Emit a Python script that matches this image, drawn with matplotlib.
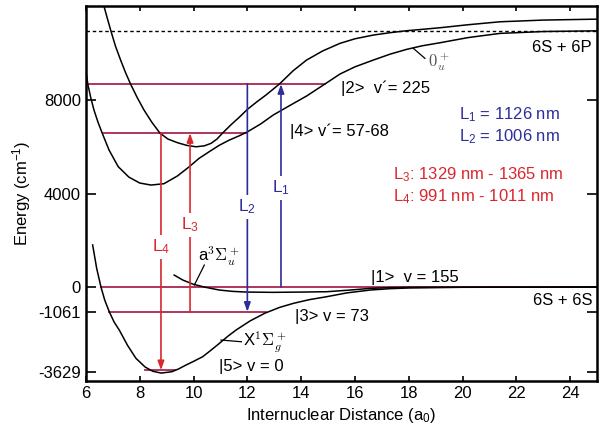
import numpy as np
import matplotlib
matplotlib.use("Agg")
import matplotlib.pyplot as plt

plt.rcParams.update({
    "font.family": ["Liberation Sans", "DejaVu Sans"],
    "font.size": 12,
    "mathtext.fontset": "custom",
    "mathtext.rm": "Liberation Sans",
    "mathtext.it": "Liberation Sans:italic",
    "mathtext.bf": "Liberation Sans:bold",
})

# --- data ----------------------------------------------------------------- #
# ground state X1Sigma_g+  (R in a0, E in cm^-1)
x_R = [6.25, 6.4, 6.56, 6.7, 6.87, 7.05, 7.24, 7.55, 7.86, 8.2, 8.48, 8.8, 9.2, 9.45,
       9.72, 10.0, 10.34, 10.65, 10.96, 11.27, 11.58, 12.1, 12.65, 13.2, 13.71, 14.3,
       14.95, 15.7, 16.56, 17.3, 18.0, 20.0, 25.0]
x_E = [1800, 800, 0, -560, -1061, -1500, -1840, -2500, -3050, -3420, -3600, -3680,
       -3620, -3500, -3336, -3180, -2980, -2700, -2410, -2110, -1840, -1450, -1120,
       -870, -698, -540, -413, -250, -128, -70, -40, -10, 0]

# triplet a3Sigma_u+
a_R = [9.28, 9.6, 9.97, 10.4, 10.96, 11.45, 11.95, 12.94, 14.0, 14.95, 15.8, 16.56,
       17.3, 18.0, 25.0]
a_E = [513, 300, 128, 0, -128, -185, -214, -227, -215, -200, -130, -57, -25, -10, 0]

# upper excited curve
u_R = [6.65, 6.8, 6.93, 7.1, 7.29, 7.47, 7.66, 7.9, 8.16, 8.45, 8.75, 9.05, 9.41,
       9.75, 10.09, 10.4, 10.65, 10.87, 11.08, 11.4, 11.72, 12.0, 12.35, 12.69, 13.19,
       13.7, 14.2, 14.8, 15.44, 16.0, 16.68, 17.3, 17.92, 19.16, 20.2, 21.39, 23.0, 25.0]
u_E = [12100, 11480, 10950, 10300, 9709, 9180, 8683, 8120, 7570, 7050, 6587, 6330,
       6172, 6060, 6000, 6040, 6146, 6330, 6587, 6950, 7285, 7600, 7920, 8212, 8683,
       9250, 9709, 10100, 10423, 10620, 10778, 10880, 10964, 11092, 11220, 11347,
       11420, 11460]

# lower excited curve (0u+)
w_R = [6.0, 6.07, 6.18, 6.3, 6.45, 6.6, 6.86, 7.2, 7.6, 8.0, 8.42, 8.9, 9.4, 9.84,
       10.2, 10.58, 10.95, 11.33, 11.7, 12.01, 12.5, 12.96, 13.6, 14.2, 14.88, 15.44,
       16.0, 16.68, 17.3, 17.92, 18.5, 19.16, 20.2, 21.39, 23.0, 25.0]
w_E = [9250, 8683, 8100, 7570, 7050, 6600, 5860, 5150, 4700, 4450, 4363, 4420, 4750,
       5146, 5500, 5788, 6060, 6287, 6470, 6643, 6980, 7357, 7780, 8170, 8683, 9110,
       9420, 9709, 9960, 10167, 10320, 10450, 10670, 10850, 10930, 10960]

asym_6P = 10950

# vibrational levels: energy, R start, R end
lvl_E = [8683, 6587, 0, -1061, -3560]
lvl_R0 = [6.0, 6.62, 6.56, 6.87, 8.2]
lvl_R1 = [14.88, 12.0, 25.0, 12.7, 9.3]

# transitions: R, E start, E end, label, label E
tr_R = [8.79, 9.87, 12.0, 13.25]
tr_E0 = [6587, -1061, 8683, 0]
tr_E1 = [-3560, 6587, -1061, 8683]
tr_lab = ["L$_4$", "L$_3$", "L$_2$", "L$_1$"]
tr_labE = [1711, 2650, 3420, 4235]

yticks = [8000, 4000, 0, -1061, -3629]
ytick_labels = ["8000", "4000", "0", "-1061", "-3629"]
xticks = [6, 8, 10, 12, 14, 16, 18, 20, 22, 24]

RED, BLUE, CRIMSON = "#d8282e", "#2d2d99", "#a82550"
tr_col = [RED, RED, BLUE, BLUE]

fig = plt.figure(figsize=(6.05, 4.32), dpi=100)
ax = fig.add_axes([0.142, 0.118, 0.845, 0.868])

ax.axhline(asym_6P, color="black", lw=1.0, ls=(0, (2.5, 2)))

for E, r0, r1 in zip(lvl_E, lvl_R0, lvl_R1):
    ax.plot([r0, r1], [E, E], color=CRIMSON, lw=1.3, zorder=2)

for R, E in [(x_R, x_E), (a_R, a_E), (u_R, u_E), (w_R, w_E)]:
    ax.plot(R, E, color="black", lw=1.1, zorder=3)

for R, e0, e1, lab, le, c in zip(tr_R, tr_E0, tr_E1, tr_lab, tr_labE, tr_col):
    ax.annotate("", xy=(R, e1), xytext=(R, e0),
                arrowprops=dict(arrowstyle="-|>,head_length=0.45,head_width=0.16",
                                color=c, lw=1.2, shrinkA=0, shrinkB=0), zorder=4)
    ax.text(R, le, lab, color=c, ha="center", va="center", fontsize=12.5, zorder=5,
            bbox=dict(boxstyle="square,pad=0.15", fc="white", ec="none"))

# state labels
ax.text(15.48, 8512, "|2>  v\u00b4= 225", va="center", fontsize=12)
ax.text(13.58, 6643, "|4> v\u00b4= 57-68", va="center", fontsize=12)
ax.text(16.6, 420, "|1>  v = 155", va="center", fontsize=12)
ax.text(13.77, -1240, "|3> v = 73", va="center", fontsize=12)
ax.text(10.94, -3380, "|5> v = 0", va="center", fontsize=12)
ax.text(24.81, 10265, "6S + 6P", ha="right", va="center", fontsize=12)
ax.text(24.81, -556, "6S + 6S", ha="right", va="center", fontsize=12)

ax.text(19.87, 7357, "L$_1$ = 1126 nm", color=BLUE, va="center", fontsize=12)
ax.text(19.87, 6416, "L$_2$ = 1006 nm", color=BLUE, va="center", fontsize=12)
ax.text(17.4, 4790, "L$_3$: 1329 nm - 1365 nm", color=RED, va="center", fontsize=12)
ax.text(17.4, 3850, "L$_4$: 991 nm - 1011 nm", color=RED, va="center", fontsize=12)

# curve names with leaders
ax.text(10.15, 1297, r"a$^3\Sigma_u^+$", va="center", fontsize=12, math_fontfamily="cm")
ax.plot([10.4, 10.03], [941, 85], color="black", lw=0.9)
ax.text(11.83, -2340, r"X$^1\Sigma_g^+$", va="center", fontsize=12, math_fontfamily="cm")
ax.plot([11.78, 11.02], [-2340, -2267], color="black", lw=0.9)
ax.text(18.7, 9620, r"$0_u^+$", color="#555555", va="center", fontsize=12,
        math_fontfamily="cm")
ax.plot([18.6, 18.17], [9782, 10210], color="black", lw=0.9)

ax.set_xlim(6, 25)
ax.set_ylim(-4020, 12020)
ax.set_xticks(xticks)
ax.set_yticks(yticks, ytick_labels)
ax.tick_params(axis="y", direction="in", length=7, width=1.2, left=True, right=True,
               labelsize=12)
ax.tick_params(axis="x", direction="in", length=3.5, width=1.2, top=True, bottom=True,
               labelsize=12)
for s in ax.spines.values():
    s.set_linewidth(1.8)
ax.set_xlabel("Internuclear Distance (a$_0$)", fontsize=12)
ax.set_ylabel("Energy (cm$^{-1}$)", fontsize=12)

fig.savefig("out.png", dpi=100)
